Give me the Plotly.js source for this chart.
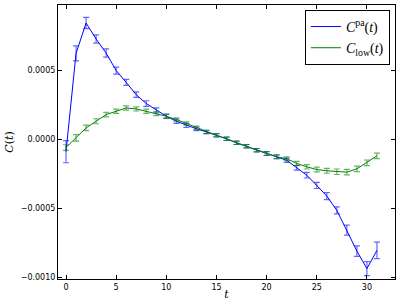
<!DOCTYPE html>
<html>
<head>
<meta charset="utf-8">
<script src="https://cdn.plot.ly/plotly-3.0.1.min.js"></script>
<style>
  html, body { margin: 0; padding: 0; background: #fff; }
  #plot { width: 399px; height: 301px; }
</style>
</head>
<body>
<div id="plot"></div>
<script>
var t = [];
for (var i = 0; i <= 31; i++) t.push(i);

var cPa = [-0.00009, 0.00062, 0.00084, 0.000724, 0.000623, 0.000496, 0.000411, 0.000322,
  0.000258, 0.000209, 0.000166, 0.00013, 0.0001, 0.000075, 0.000053, 0.000029,
  0.000003, -0.000026, -0.00005, -0.000079, -0.000103, -0.000127, -0.000152, -0.000206,
  -0.00026, -0.000334, -0.000411, -0.000514, -0.000657, -0.000808, -0.000935, -0.000803];
var cPaErr = [0.00008, 0.000054, 0.00004, 0.00003, 0.00003, 0.000025, 0.000022, 0.00002,
  0.00002, 0.000018, 0.000016, 0.000015, 0.000014, 0.000013, 0.000012, 0.000012,
  0.000012, 0.000012, 0.000012, 0.000012, 0.000013, 0.000014, 0.000015, 0.000017,
  0.00002, 0.000022, 0.000025, 0.000025, 0.000036, 0.000038, 0.00005, 0.00006];

var cLow = [-0.00006, 0.00001, 0.000082, 0.00013, 0.000178, 0.000202, 0.000226, 0.000219,
  0.000202, 0.000185, 0.000166, 0.000142, 0.000113, 0.000082, 0.000053, 0.000029,
  0.000003, -0.000026, -0.00005, -0.000079, -0.000103, -0.000127, -0.000141, -0.000175,
  -0.000199, -0.000219, -0.000228, -0.000235, -0.000238, -0.000214, -0.00017, -0.00012];
var cLowErr = [0.00002, 0.000024, 0.00002, 0.000018, 0.000016, 0.000015, 0.000015, 0.000015,
  0.000015, 0.000014, 0.000013, 0.000012, 0.000012, 0.000012, 0.000012, 0.000012,
  0.000012, 0.000012, 0.000012, 0.000012, 0.000013, 0.000013, 0.000014, 0.000015,
  0.000016, 0.000017, 0.000018, 0.00002, 0.00002, 0.00002, 0.00002, 0.00002];

var trace1 = {
    x: t,
    y: cPa,
    name: '<i>C</i><sup>pa</sup>(<i>t</i>)',
    type: 'scatter',
    mode: 'lines',
    line: { color: '#0000ff', width: 1 },
    error_y: { type: 'data', array: cPaErr, visible: true, color: 'rgba(0,0,255,0.6)', thickness: 1.2, width: 3 }
};

var trace2 = {
    x: t,
    y: cLow,
    name: '<i>C</i><sub>low</sub>(<i>t</i>)',
    type: 'scatter',
    mode: 'lines',
    line: { color: '#008000', width: 1 },
    error_y: { type: 'data', array: cLowErr, visible: true, color: 'rgba(0,128,0,0.6)', thickness: 1.2, width: 3 }
};

var axisStyle = {
    showline: true,
    linecolor: '#000',
    linewidth: 1,
    mirror: 'allticks',
    ticks: 'inside',
    ticklen: 4,
    tickcolor: '#000',
    showgrid: false,
    zeroline: false,
    tickfont: { family: 'DejaVu Sans', size: 8, color: '#000' }
};

var layout = {
    width: 399,
    height: 301,
    margin: { l: 58, r: 4, t: 5, b: 22 },
    paper_bgcolor: '#fff',
    plot_bgcolor: '#fff',
    showlegend: true,
    xaxis: Object.assign({}, axisStyle, {
        range: [-0.8, 32.8],
        tick0: 0,
        dtick: 5,
        title: { text: '<i>t</i>', font: { family: 'DejaVu Serif', size: 11, color: '#000' }, standoff: 2 }
    }),
    yaxis: Object.assign({}, axisStyle, {
        range: [-0.00101, 0.00097],
        tick0: 0,
        dtick: 0.0005,
        tickformat: '.4f',
        title: { text: '<i>C</i>(<i>t</i>)', font: { family: 'DejaVu Serif', size: 11, color: '#000' }, standoff: 4 }
    }),
    legend: {
        x: 0.985,
        y: 0.982,
        xanchor: 'right',
        yanchor: 'top',
        bgcolor: '#fff',
        bordercolor: '#000',
        borderwidth: 1,
        tracegroupgap: 4,
        font: { family: 'Liberation Serif', size: 14, color: '#000' }
    }
};

Plotly.newPlot('plot', [trace1, trace2], layout, { staticPlot: true });
</script>
</body>
</html>
